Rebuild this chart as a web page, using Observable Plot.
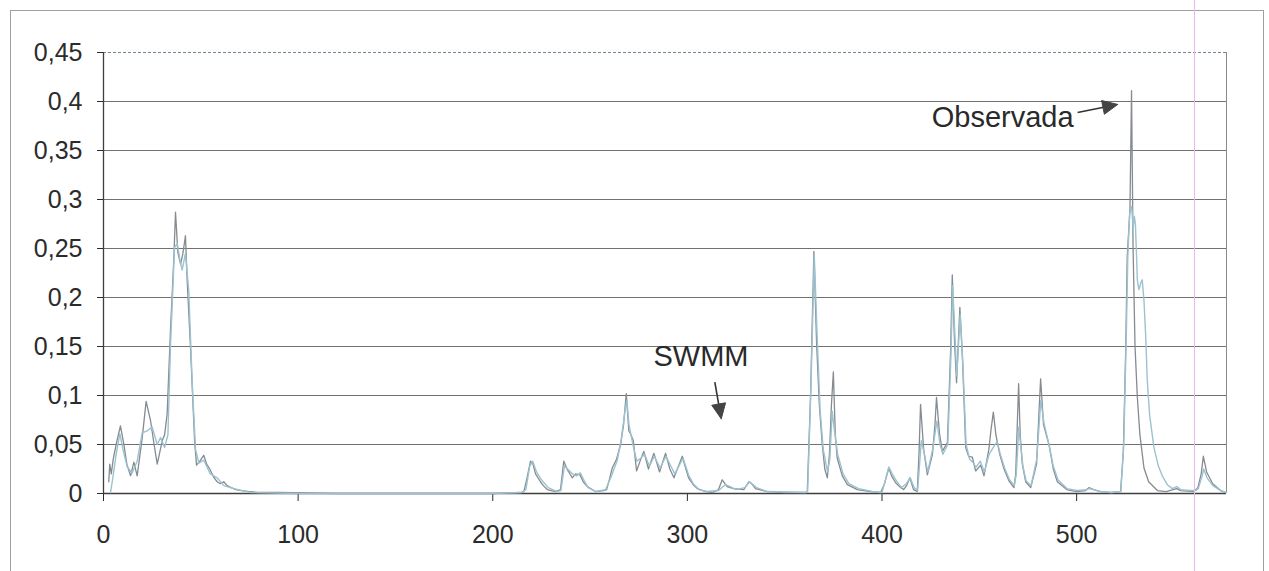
<!DOCTYPE html>
<html><head><meta charset="utf-8">
<script src="https://cdn.jsdelivr.net/npm/d3@7"></script>
<script src="https://cdn.jsdelivr.net/npm/@observablehq/plot@0.6"></script>
<style>
html,body{margin:0;padding:0;background:#fff;width:1269px;height:571px;overflow:hidden}
#wrap{position:relative;width:1269px;height:571px}
#frame{position:absolute;left:10px;top:10px;width:1254px;height:570px;border:1px solid #a0a0a0;border-bottom:none;box-sizing:border-box}
#pink{position:absolute;left:1194px;top:0;width:1px;height:571px;background:#ecb8ec}
#chart{position:absolute;left:0;top:0}
</style></head><body>
<div id="wrap"><div id="frame"></div><div id="chart"></div><div id="pink"></div></div>
<script>
// ---- data ----
const obsX = [2.7,3.2,4,5,6.5,8.7,10.4,12,13.9,15.6,17.3,19.9,21.9,24.2,26,27.6,30.2,31.4,32.7,34.4,36.1,37,38.2,39.6,40.8,42.1,43,44.7,46,46.8,47.8,49.5,51.5,53,54.6,56.5,58.4,60,61.8,63.5,65.6,68,70.9,75,79.5,90,120,160,200,214,
216,217.5,219.4,220.5,222,224.5,226,228,232.3,234.8,236.5,238.4,240.9,242.5,244.8,246.5,248.6,252.8,257,258.5,260,261.4,263.6,265.7,267.2,268.6,269.9,271,272.2,273.9,275.5,277.6,280,282.8,285.7,288.8,291,293.1,297.4,298.5,300.6,303,305.1,309.4,313,316,317.9,320.4,323.7,329,331.6,333,335,341,350,361,
361.6,363.3,365,366.4,367.8,369.3,370.6,371.9,373,374,375,376,377,379.6,382.2,387.3,394,399.3,
401.3,403.5,404.9,407,409,411.1,412.6,414.3,416.2,418.1,419,419.8,421.4,423.3,425.9,427.2,428,429.6,431,433.6,435.3,436.1,437.3,438.3,440,441.4,443,444.5,446.4,448.1,450.7,452.4,454.9,456,457.2,458.5,460.5,462.7,465.2,467.8,468.7,469.5,470.2,471,472.1,473.8,476.4,479.4,480.6,481.5,483,485.8,488,490.1,494.9,500,504.6,506.3,508.7,512.3,517.5,522.6,
524,525.2,526,527.4,528.2,529,530,531.2,532.5,534.6,537,541.5,546,551.4,553.5,560.2,562.3,564,565.1,566.8,569.9,574,576.6];
const obsY = [0.012,0.030,0.02,0.035,0.05,0.069,0.051,0.03,0.018,0.032,0.018,0.057,0.094,0.074,0.05,0.03,0.054,0.06,0.081,0.166,0.238,0.287,0.246,0.234,0.245,0.263,0.217,0.149,0.09,0.054,0.029,0.033,0.039,0.03,0.025,0.017,0.012,0.01,0.012,0.008,0.006,0.004,0.003,0.002,0.001,0.001,0,0,0,0.001,
0.002,0.015,0.033,0.031,0.02,0.012,0.008,0.004,0.002,0.004,0.033,0.024,0.016,0.02,0.019,0.012,0.007,0.002,0.003,0.004,0.015,0.026,0.035,0.05,0.07,0.102,0.064,0.06,0.054,0.023,0.032,0.043,0.025,0.041,0.022,0.041,0.025,0.016,0.038,0.03,0.016,0.009,0.005,0.002,0.001,0.004,0.014,0.007,0.005,0.004,0.012,0.01,0.005,0.002,0.001,0.001,
0.002,0.1,0.247,0.153,0.09,0.05,0.025,0.016,0.04,0.09,0.124,0.06,0.036,0.018,0.009,0.004,0.002,0.001,
0.01,0.026,0.018,0.011,0.007,0.004,0.008,0.016,0.004,0.002,0.04,0.091,0.045,0.019,0.04,0.07,0.098,0.06,0.043,0.052,0.149,0.223,0.153,0.113,0.19,0.135,0.047,0.038,0.037,0.023,0.029,0.018,0.045,0.065,0.083,0.06,0.04,0.025,0.013,0.006,0.02,0.07,0.112,0.06,0.03,0.012,0.006,0.03,0.08,0.117,0.07,0.05,0.025,0.012,0.004,0.002,0.003,0.006,0.004,0.002,0.001,0.002,
0.043,0.146,0.242,0.29,0.411,0.25,0.15,0.098,0.06,0.026,0.012,0.003,0.002,0.005,0.003,0.002,0.006,0.02,0.038,0.022,0.01,0.003,0.001];

const swmmX = [3.6,4.8,6.5,8.4,10,12.2,14.7,17.3,19.9,22.5,25,27.6,29.3,31.4,33.1,34.4,36.5,37.9,39.3,40.4,42.1,43.8,45.6,47.3,49,51.5,54.9,58.4,61.8,67,75.5,100,150,200,215,
217,219,220.5,222.5,225,228.5,233,235,236.8,238.5,241,243,245,247,249,253,258,261,264,266,268,268.9,270,272,274,276,278,280.5,283,286,289,291.5,293.5,297.8,300.8,303,306,310,316,319.5,322,325,329.5,332,335.5,341,361,
361.8,363.5,365.2,366.7,368.2,369.8,372,373.2,374.4,375.5,377.2,380,383,388,395,400,
401.5,403.5,405,407,410,412.5,414.5,416.5,418.3,419.5,420.2,421.8,423.5,426,428.2,429.8,431.3,433.8,435.4,436.3,437.4,438.4,440.2,441.6,443.2,445,446.6,448.3,450.5,452.6,455,457.5,459.2,460.8,463,465.5,468,469,470.3,471.2,472.4,474,476.6,479.5,481.6,483.2,486,488,490.4,495,500,505,506.5,509,512,518,522.7,
524.2,525.5,526.3,527.2,528.3,529,529.6,530.2,531.2,532,533,533.7,534.6,535.5,536.3,537.5,539.7,542,544,546.6,549.2,551.4,553.5,558,561,562.5,564.5,565.3,567,570,574,577];
const swmmY = [0.001,0.016,0.04,0.061,0.045,0.027,0.021,0.033,0.062,0.064,0.068,0.05,0.057,0.047,0.06,0.149,0.251,0.255,0.238,0.228,0.245,0.207,0.112,0.045,0.031,0.034,0.02,0.016,0.008,0.005,0.001,0,0,0,0.001,
0.004,0.028,0.033,0.022,0.014,0.006,0.002,0.003,0.028,0.025,0.02,0.018,0.021,0.013,0.006,0.002,0.004,0.018,0.034,0.055,0.085,0.095,0.07,0.05,0.033,0.036,0.04,0.028,0.038,0.026,0.038,0.028,0.02,0.036,0.018,0.01,0.004,0.002,0.003,0.009,0.007,0.004,0.006,0.012,0.006,0.002,0.001,
0.002,0.11,0.243,0.16,0.085,0.045,0.022,0.035,0.084,0.065,0.04,0.02,0.01,0.005,0.002,0.001,
0.012,0.027,0.021,0.014,0.006,0.01,0.016,0.006,0.003,0.035,0.054,0.04,0.022,0.045,0.074,0.05,0.04,0.05,0.14,0.212,0.165,0.12,0.183,0.13,0.05,0.035,0.032,0.027,0.033,0.022,0.04,0.048,0.053,0.04,0.026,0.014,0.008,0.02,0.068,0.05,0.028,0.013,0.008,0.035,0.095,0.072,0.048,0.028,0.014,0.005,0.003,0.004,0.005,0.004,0.002,0.001,0.002,
0.05,0.16,0.242,0.285,0.293,0.27,0.283,0.275,0.218,0.208,0.215,0.218,0.197,0.16,0.115,0.08,0.047,0.028,0.018,0.009,0.005,0.007,0.004,0.003,0.003,0.005,0.018,0.025,0.016,0.008,0.003,0.001];

const xTicks = [0,100,200,300,400,500];
const yTicks = [0,0.05,0.1,0.15,0.2,0.25,0.3,0.35,0.4,0.45];
const labels = [
  {text:"Observada", x:462, y:0.383, ax1:500.5, ay1:0.3888, ax2:521.1, ay2:0.397},
  {text:"SWMM", x:307, y:0.1398, ax1:314.1, ay1:0.1136, ax2:317.4, ay2:0.0762}
];

// ---- chart ----
const W=1269, H=571, mL=103, mR=43, mT=52, mB=78;
const xDomain=[0,577], yDomain=[0,0.45];
const xs = d3.scaleLinear(xDomain,[mL, W-mR]);
const ys = d3.scaleLinear(yDomain,[H-mB, mT]);

const obs = obsX.map((x,i)=>({x, y:obsY[i]}));
const swmm = swmmX.map((x,i)=>({x, y:swmmY[i]}));

const shafts=[], heads=[];
labels.forEach((a,k)=>{
  const px1=xs(a.ax1), py1=ys(a.ay1), px2=xs(a.ax2), py2=ys(a.ay2);
  const dx=px2-px1, dy=py2-py1, L=Math.hypot(dx,dy);
  const ux=dx/L, uy=dy/L, nx=-uy, ny=ux;
  const hl=15, hw=7;
  const bx=px2-ux*hl, by=py2-uy*hl;
  shafts.push({x1:a.ax1, y1:a.ay1, x2:xs.invert(bx+ux*2), y2:ys.invert(by+uy*2)});
  [[px2,py2],[bx+nx*hw,by+ny*hw],[bx-nx*hw,by-ny*hw],[px2,py2]].forEach(p=>heads.push({k, x:xs.invert(p[0]), y:ys.invert(p[1])}));
});

const fmt = d => d===0 ? "0" : String(+d.toFixed(2)).replace(".", ",");

const chart = Plot.plot({
  width:W, height:H, marginLeft:mL, marginRight:mR, marginTop:mT, marginBottom:mB,
  style:{fontFamily:"'Liberation Sans', Arial, sans-serif", fontSize:"25px", color:"#2b2b2b", background:"transparent"},
  x:{domain:xDomain, ticks:xTicks, tickSize:8, tickPadding:24, label:null, tickFormat:d=>String(d)},
  y:{domain:yDomain, ticks:yTicks, tickSize:6, tickPadding:15, label:null, tickFormat:fmt},
  marks:[
    Plot.ruleY(yTicks.filter(t=>t>0 && t<0.45), {stroke:"#626262", strokeWidth:1, strokeOpacity:0.9}),
    Plot.ruleY([yDomain[1]], {stroke:"#6f8797", strokeWidth:1, strokeDasharray:"3,2"}),
    Plot.ruleX([xDomain[1]], {stroke:"#8a8a8a", strokeWidth:1}),
    Plot.ruleY([0], {stroke:"#3e3e3e", strokeWidth:1.3}),
    Plot.ruleX([0], {stroke:"#3e3e3e", strokeWidth:1.3}),
    Plot.line(obs, {x:"x", y:"y", stroke:"#858b90", strokeWidth:1.3, curve:"linear"}),
    Plot.line(swmm, {x:"x", y:"y", stroke:"#9cc2d0", strokeWidth:1.4, curve:"linear"}),
    Plot.text(labels, {x:"x", y:"y", text:"text", fontSize:29, fill:"#2a2a2a", textAnchor:"middle", lineAnchor:"middle"}),
    Plot.link(shafts, {x1:"x1", y1:"y1", x2:"x2", y2:"y2", stroke:"#333", strokeWidth:1.6}),
    Plot.line(heads, {x:"x", y:"y", z:"k", fill:"#444", stroke:"#444", strokeWidth:1})
  ]
});
document.getElementById("chart").appendChild(chart);
</script>
</body></html>
